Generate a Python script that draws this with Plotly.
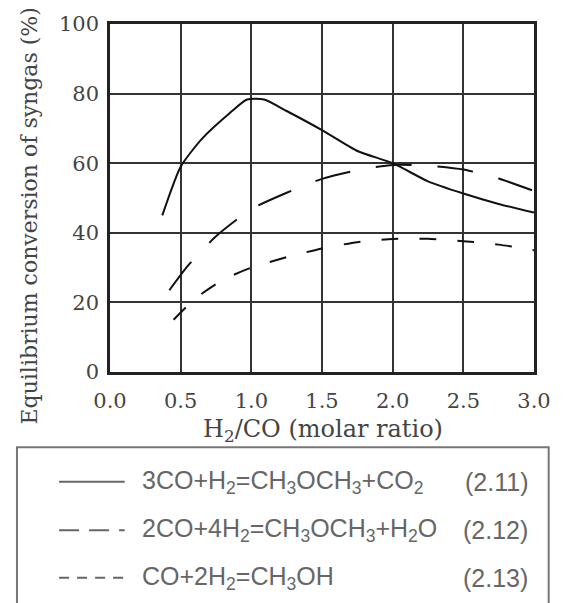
import plotly.graph_objects as go

# ---- data ----
x_211 = [0.37, 0.50, 0.65, 0.85, 0.97, 1.09, 1.25, 1.50, 1.75, 2.00, 2.25, 2.50, 2.75, 3.00]
y_211 = [45.0, 59.0, 67.0, 74.5, 78.3, 78.3, 75.0, 69.5, 63.5, 60.0, 54.8, 51.3, 48.3, 45.8]

x_212 = [0.42, 0.55, 0.75, 1.00, 1.25, 1.50, 1.75, 2.00, 2.25, 2.50, 2.75, 3.00]
y_212 = [23.5, 30.5, 39.0, 46.8, 51.5, 55.5, 58.0, 59.5, 59.3, 58.2, 55.6, 52.0]

x_213 = [0.45, 0.60, 0.80, 1.00, 1.25, 1.50, 1.75, 2.00, 2.25, 2.50, 2.75, 3.00]
y_213 = [15.0, 21.0, 26.5, 30.0, 33.0, 35.5, 37.3, 38.2, 38.3, 37.6, 36.6, 35.0]

x_ticks = [0.0, 0.5, 1.0, 1.5, 2.0, 2.5, 3.0]
x_tick_labels = ["0.0", "0.5", "1.0", "1.5", "2.0", "2.5", "3.0"]
y_ticks = [0, 20, 40, 60, 80, 100]
y_tick_labels = ["0", "20", "40", "60", "80", "100"]

legend_labels = [
    "3CO+H<sub>2</sub>=CH<sub>3</sub>OCH<sub>3</sub>+CO<sub>2</sub>",
    "2CO+4H<sub>2</sub>=CH<sub>3</sub>OCH<sub>3</sub>+H<sub>2</sub>O",
    "CO+2H<sub>2</sub>=CH<sub>3</sub>OH",
]
eq_numbers = ["(2.11)", "(2.12)", "(2.13)"]

# ---- layout geometry (pixels) ----
W, H = 563, 603
L, R, T, B = 110, 20, 20, 231
PW = W - L - R
PH = H - T - B


def px(xp):
    return (xp - L) / PW


def py(yp):
    return (H - B - yp) / PH


SERIF = "DejaVu Serif"
SANS = "Liberation Sans, Arial"

fig = go.Figure()
dashes = ["solid", "36px,26px", "17px,21px"]
for xs, ys, d in [(x_211, y_211, dashes[0]), (x_212, y_212, dashes[1]), (x_213, y_213, dashes[2])]:
    fig.add_trace(go.Scatter(x=xs, y=ys, mode="lines",
                             line=dict(color="#111", width=2, dash=d, shape="spline", smoothing=0.6),
                             showlegend=False, hoverinfo="skip"))

axis_common = dict(
    showline=True, mirror=True, linecolor="#222", linewidth=2.5,
    showgrid=True, gridcolor="#333", gridwidth=1.5,
    zeroline=False, ticks="",
    tickfont=dict(family=SERIF, size=21, color="#444"),
)
fig.update_xaxes(range=[0, 3], tickvals=x_ticks, ticktext=x_tick_labels, ticklabelstandoff=8, **axis_common)
fig.update_yaxes(range=[0, 100], tickvals=y_ticks, ticktext=y_tick_labels, ticklabelstandoff=4, **axis_common)

annotations = [
    dict(text="H<sub>2</sub>/CO (molar ratio)", x=px(328), y=py(431), xref="paper", yref="paper",
         showarrow=False, font=dict(family=SERIF, size=24, color="#444"), xanchor="center", yanchor="middle"),
    dict(text="Equilibrium conversion of syngas (%)", x=px(28), y=py(214), xref="paper", yref="paper",
         showarrow=False, textangle=-90, font=dict(family=SERIF, size=22, color="#444"),
         xanchor="center", yanchor="middle"),
]

shapes = [
    dict(type="rect", xref="paper", yref="paper", x0=px(15), x1=px(558), y0=py(448), y1=py(640),
         line=dict(color="#777", width=2), fillcolor="rgba(0,0,0,0)", layer="above"),
]
rows_y = [483, 532, 580]
for i, (lab, num, d) in enumerate(zip(legend_labels, eq_numbers, ["solid", "20px,10px", "10px,8px"])):
    yy = py(rows_y[i])
    shapes.append(dict(type="line", xref="paper", yref="paper", x0=px(58), x1=px(125), y0=yy, y1=yy,
                       line=dict(color="#666", width=2, dash=d)))
    annotations.append(dict(text=lab, x=px(141), y=yy, xref="paper", yref="paper", showarrow=False,
                            xanchor="left", yanchor="middle", font=dict(family=SANS, size=25, color="#666")))
    annotations.append(dict(text=num, x=px(539), y=yy, xref="paper", yref="paper", showarrow=False,
                            xanchor="right", yanchor="middle", font=dict(family=SANS, size=25, color="#666")))

fig.update_layout(
    width=W, height=H,
    margin=dict(l=L, r=R, t=T, b=B),
    paper_bgcolor="white", plot_bgcolor="white",
    annotations=annotations, shapes=shapes,
    showlegend=False,
)

fig.write_html("out.html",
               config={"displayModeBar": False},
               post_script="document.body.style.margin='0';document.body.style.overflow='hidden';")
